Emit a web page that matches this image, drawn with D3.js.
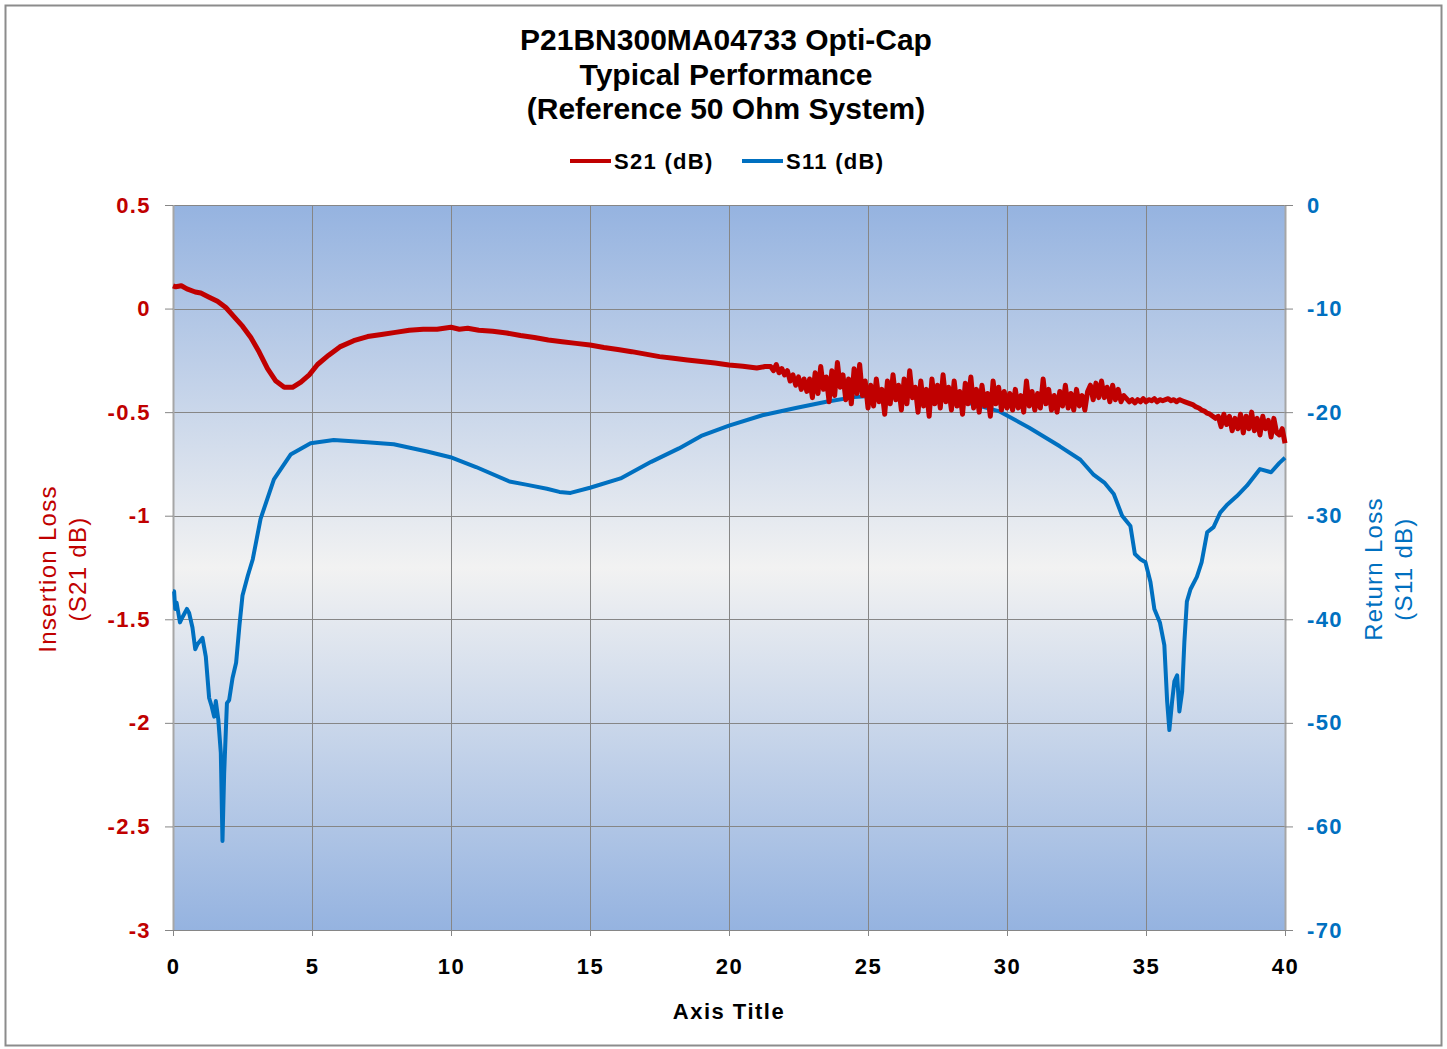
<!DOCTYPE html>
<html>
<head>
<meta charset="utf-8">
<script src="https://cdn.jsdelivr.net/npm/d3@7"></script>
<style>
body { margin: 0; background: #fff; }
text { font-family: "Liberation Sans", Arial, sans-serif; }
</style>
</head>
<body>
<script>
var W = 1447, H = 1049;
var margin = {top: 205, right: 162, bottom: 119, left: 173};
var w = W - margin.left - margin.right;
var h = H - margin.top - margin.bottom;

var titleLines = ["P21BN300MA04733 Opti-Cap", "Typical Performance", "(Reference 50 Ohm System)"];
var xTicks = [0, 5, 10, 15, 20, 25, 30, 35, 40];
var leftTicks = [0.5, 0, -0.5, -1, -1.5, -2, -2.5, -3];
var rightTicks = [0, -10, -20, -30, -40, -50, -60, -70];

// S21 (dB), smooth part
var s21Freq = [0, 0.1, 0.3, 0.5, 0.8, 1.0, 1.3, 1.6, 1.9, 2.2, 2.5, 2.8, 3.1, 3.4, 3.7, 4.0, 4.3, 4.6, 4.9,
  5.2, 5.6, 6.0, 6.5, 7.0, 7.5, 8.0, 8.5, 9.0, 9.5, 10.0, 10.3, 10.6, 11.0, 11.5, 12.0, 12.5, 13.0, 13.5,
  14.0, 14.5, 15.0, 15.5, 16.0, 16.5, 17.0, 17.5, 18.0, 18.5, 19.0, 19.5, 20.0, 20.5, 21.0, 21.3];
var s21Val = [0.11, 0.105, 0.11, 0.095, 0.08, 0.075, 0.055, 0.035, 0.005, -0.04, -0.085, -0.14, -0.21, -0.29, -0.35, -0.38, -0.38, -0.355, -0.32,
  -0.27, -0.225, -0.185, -0.155, -0.135, -0.125, -0.115, -0.105, -0.1, -0.1, -0.09, -0.1, -0.095, -0.105, -0.11, -0.118, -0.13, -0.14, -0.152,
  -0.16, -0.168, -0.176, -0.188, -0.198, -0.208, -0.22, -0.232, -0.24, -0.248, -0.255, -0.263, -0.272, -0.278, -0.287, -0.28];

// S21 (dB), noisy part of the sweep: 21.5 .. 40 GHz every 0.1
var s21NoisyStart = 21.5, s21NoisyStep = 0.1;
var s21Noisy = [-0.28, -0.30, -0.27, -0.31, -0.29, -0.32,
  -0.30, -0.35, -0.32, -0.37, -0.33, -0.39, -0.34, -0.40,
  -0.34, -0.43, -0.31, -0.41, -0.28, -0.39, -0.33, -0.45, -0.30, -0.42, -0.26, -0.38, -0.32, -0.44, -0.34, -0.46, -0.29, -0.41, -0.27, -0.42, -0.35, -0.48,
  -0.37, -0.47, -0.34, -0.45, -0.39, -0.51, -0.35, -0.46, -0.32, -0.44,
  -0.37, -0.49, -0.34, -0.46, -0.30, -0.43, -0.38, -0.50, -0.35, -0.47,
  -0.39, -0.52, -0.34, -0.46, -0.37, -0.48, -0.32, -0.45, -0.38, -0.49,
  -0.35, -0.47, -0.40, -0.51, -0.36, -0.46, -0.33, -0.48, -0.39, -0.50,
  -0.37, -0.47, -0.41, -0.52, -0.35, -0.46, -0.38, -0.49, -0.40, -0.48,
  -0.41, -0.49, -0.39, -0.48, -0.42, -0.50, -0.35, -0.47, -0.40, -0.49,
  -0.41, -0.48, -0.34, -0.46, -0.39, -0.49, -0.42, -0.50, -0.40, -0.47,
  -0.37, -0.48, -0.41, -0.49, -0.39, -0.47, -0.42, -0.49, -0.40,
  -0.37, -0.44, -0.36, -0.43, -0.35, -0.43, -0.38, -0.45, -0.37, -0.44, -0.39, -0.45, -0.42,
  -0.435, -0.45, -0.44, -0.455, -0.44, -0.45, -0.435, -0.45, -0.44, -0.445, -0.435, -0.45, -0.44, -0.445, -0.44, -0.435, -0.445, -0.44, -0.45, -0.44, -0.445, -0.45, -0.455,
  -0.46, -0.465, -0.475, -0.48, -0.49, -0.495, -0.505, -0.51, -0.52, -0.53,
  -0.52, -0.57, -0.51, -0.56, -0.52, -0.59, -0.53, -0.58, -0.51, -0.60, -0.52, -0.58, -0.50, -0.59, -0.53, -0.61, -0.52, -0.58, -0.54, -0.62, -0.53, -0.60,
  -0.61, -0.58, -0.65];

// S11 (dB)
var s11Freq = [0, 0.04, 0.08, 0.13, 0.25, 0.34, 0.5, 0.58, 0.7, 0.8, 0.88, 1.06, 1.18, 1.3, 1.39, 1.48, 1.54, 1.63, 1.72, 1.78,
  1.84, 1.94, 2.02, 2.14, 2.27, 2.39, 2.5, 2.69, 2.87, 3.15, 3.63, 4.23, 4.95, 5.78, 6.98, 7.94, 9.14, 9.98, 10.9, 12.1,
  12.7, 13.45, 13.9, 14.3, 15.0, 16.1, 17.2, 18.2, 19.0, 20.0, 21.2, 22.4, 23.5, 24.5, 25.9, 27.2, 28.6, 29.7, 30.8, 31.9,
  32.64, 33.1, 33.5, 33.84, 34.14, 34.44, 34.6, 34.8, 34.98, 35.16, 35.3, 35.5, 35.66, 35.76, 35.84, 35.94, 36.02, 36.12,
  36.2, 36.3, 36.38, 36.47, 36.6, 36.83, 37.0, 37.2, 37.43, 37.67, 37.9, 38.27, 38.63, 39.1, 39.5, 39.8, 40.0];
var s11Val = [-37.3, -37.3, -39.0, -38.4, -40.3, -39.8, -39.0, -39.4, -40.8, -42.9, -42.4, -41.8, -43.6, -47.6, -48.4, -49.4, -47.9, -49.7, -52.9, -61.4,
  -54.9, -48.1, -47.8, -45.7, -44.2, -40.6, -37.7, -35.8, -34.2, -30.3, -26.5, -24.1, -23.0, -22.7, -22.9, -23.1, -23.8, -24.35, -25.3, -26.7,
  -27.0, -27.4, -27.7, -27.8, -27.3, -26.4, -24.8, -23.5, -22.3, -21.3, -20.3, -19.6, -19.0, -18.55, -18.3, -18.6, -19.1, -19.9, -21.5, -23.3,
  -24.6, -26.0, -26.8, -27.9, -30.0, -31.0, -33.7, -34.2, -34.5, -36.4, -39.0, -40.3, -42.5, -47.9, -50.7, -47.9, -46.0, -45.4,
  -48.9, -47.0, -42.2, -38.3, -37.1, -35.9, -34.5, -31.6, -31.1, -29.7, -29.0, -28.1, -27.1, -25.5, -25.8, -24.9, -24.4];

var red = "#c00000", blue = "#0070c0";

var svg = d3.select("body").append("svg")
    .attr("width", W)
    .attr("height", H);

svg.append("rect")
    .attr("x", 5.5).attr("y", 5.5)
    .attr("width", W - 11).attr("height", H - 9)
    .attr("fill", "#fff")
    .attr("stroke", "#8c8c8c")
    .attr("stroke-width", 2);

var grad = svg.append("defs").append("linearGradient")
    .attr("id", "bg")
    .attr("x1", 0).attr("y1", 0).attr("x2", 0).attr("y2", 1);
grad.append("stop").attr("offset", "0%").attr("stop-color", "#95b3e0");
grad.append("stop").attr("offset", "50%").attr("stop-color", "#f2f2f2");
grad.append("stop").attr("offset", "100%").attr("stop-color", "#95b3e0");

var g = svg.append("g")
    .attr("transform", "translate(" + margin.left + "," + margin.top + ")");

var x = d3.scaleLinear().domain([0, 40]).range([0, w]);
var yL = d3.scaleLinear().domain([-3, 0.5]).range([h, 0]);
var yR = d3.scaleLinear().domain([-70, 0]).range([h, 0]);

g.append("rect")
    .attr("width", w).attr("height", h)
    .attr("fill", "url(#bg)");

// grid
g.selectAll(".hgrid").data(leftTicks).enter().append("line")
    .attr("class", "hgrid")
    .attr("x1", 0).attr("x2", w)
    .attr("y1", function(d) { return Math.round(yL(d)) + 0.5; })
    .attr("y2", function(d) { return Math.round(yL(d)) + 0.5; })
    .attr("stroke", "#868686").attr("stroke-width", 1);

g.selectAll(".vgrid").data(xTicks).enter().append("line")
    .attr("class", "vgrid")
    .attr("y1", 0).attr("y2", h)
    .attr("x1", function(d) { return Math.round(x(d)) + 0.5; })
    .attr("x2", function(d) { return Math.round(x(d)) + 0.5; })
    .attr("stroke", function(d, i) { return (i == 0 || i == xTicks.length - 1) ? "#a6a6a6" : "#868686"; })
    .attr("stroke-width", function(d, i) { return (i == 0 || i == xTicks.length - 1) ? 2 : 1; });

// axes
var xAxis = g.append("g")
    .attr("transform", "translate(0," + h + ")")
    .call(d3.axisBottom(x).tickValues(xTicks).tickSize(6).tickPadding(22));
var leftAxis = g.append("g")
    .call(d3.axisLeft(yL).tickValues(leftTicks).tickSize(8).tickPadding(14)
        .tickFormat(function(d) { return String(d); }));
var rightAxis = g.append("g")
    .attr("transform", "translate(" + w + ",0)")
    .call(d3.axisRight(yR).tickValues(rightTicks).tickSize(8).tickPadding(14)
        .tickFormat(function(d) { return String(d); }));

[xAxis, leftAxis, rightAxis].forEach(function(a) {
    a.select(".domain").remove();
    a.selectAll(".tick line").attr("stroke", "#868686");
    a.selectAll("text")
        .style("font-family", "'Liberation Sans', Arial, sans-serif")
        .style("font-size", "22px")
        .style("font-weight", "bold")
        .style("letter-spacing", "1.4px");
});
xAxis.selectAll("text").attr("fill", "#000");
leftAxis.selectAll("text").attr("fill", red);
rightAxis.selectAll("text").attr("fill", blue);

// lines
var s21 = s21Freq.map(function(f, i) { return [f, s21Val[i]]; })
    .concat(s21Noisy.map(function(v, i) { return [s21NoisyStart + i * s21NoisyStep, v]; }));
var s11 = s11Freq.map(function(f, i) { return [f, s11Val[i]]; });

g.append("path")
    .datum(s11)
    .attr("fill", "none")
    .attr("stroke", blue)
    .attr("stroke-width", 4)
    .attr("stroke-linejoin", "round")
    .attr("d", d3.line().x(function(d) { return x(d[0]); }).y(function(d) { return yR(d[1]); }));

g.append("path")
    .datum(s21)
    .attr("fill", "none")
    .attr("stroke", red)
    .attr("stroke-width", 5)
    .attr("stroke-linejoin", "round")
    .attr("d", d3.line().x(function(d) { return x(d[0]); }).y(function(d) { return yL(d[1]); }));

// titles
svg.selectAll(".title").data(titleLines).enter().append("text")
    .attr("class", "title")
    .attr("x", 726)
    .attr("y", function(d, i) { return 50 + i * 34.5; })
    .attr("text-anchor", "middle")
    .style("font-size", "30px")
    .style("font-weight", "bold")
    .text(function(d) { return d; });

// legend
var legend = [{name: "S21 (dB)", color: red, x: 570}, {name: "S11 (dB)", color: blue, x: 742}];
legend.forEach(function(l) {
    svg.append("line")
        .attr("x1", l.x).attr("x2", l.x + 41)
        .attr("y1", 161).attr("y2", 161)
        .attr("stroke", l.color).attr("stroke-width", 4);
    svg.append("text")
        .attr("x", l.x + 44).attr("y", 169)
        .style("font-size", "22px")
        .style("font-weight", "bold")
        .style("letter-spacing", "1.3px")
        .text(l.name);
});

svg.append("text")
    .attr("x", 729).attr("y", 1019)
    .attr("text-anchor", "middle")
    .style("font-size", "22px")
    .style("font-weight", "bold")
    .style("letter-spacing", "1.5px")
    .text("Axis Title");

var lt = svg.append("text")
    .attr("transform", "translate(56,569) rotate(-90)")
    .attr("text-anchor", "middle")
    .attr("fill", red)
    .style("font-size", "24px")
    .style("letter-spacing", "1.3px");
lt.append("tspan").attr("x", 0).attr("dy", 0).text("Insertion Loss");
lt.append("tspan").attr("x", 0).attr("dy", 30).text("(S21 dB)");

var rt = svg.append("text")
    .attr("transform", "translate(1382,569) rotate(-90)")
    .attr("text-anchor", "middle")
    .attr("fill", blue)
    .style("font-size", "24px")
    .style("letter-spacing", "1.3px");
rt.append("tspan").attr("x", 0).attr("dy", 0).text("Return Loss");
rt.append("tspan").attr("x", 0).attr("dy", 30).text("(S11 dB)");
</script>
</body>
</html>
